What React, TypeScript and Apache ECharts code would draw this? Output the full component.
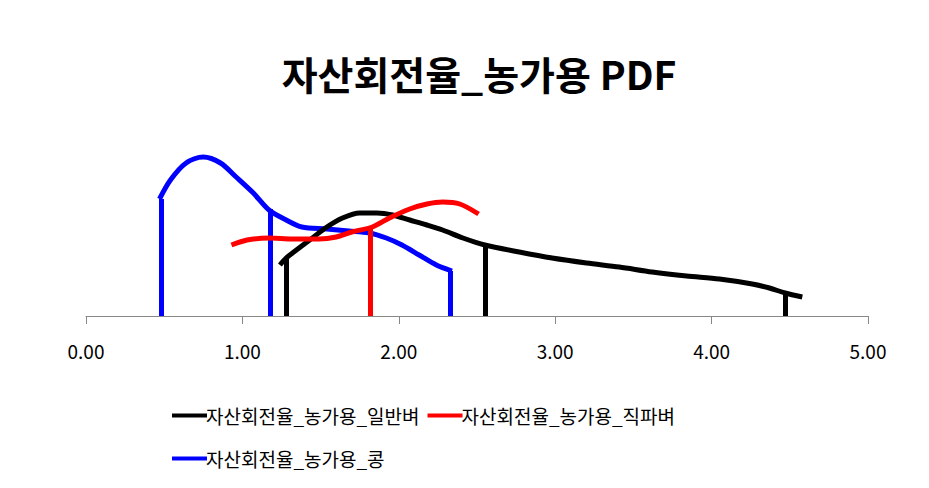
import React, { useEffect, useRef } from "react";
import * as echarts from "echarts";

const seriesNames = ["자산회전율_농가용_일반벼", "자산회전율_농가용_직파벼", "자산회전율_농가용_콩"];
const colors = ["#000000", "#ff0000", "#0000ff"];

const blackCurve: [number, number][] = [
  [1.24, 0.51], [1.28, 0.58], [1.32, 0.63], [1.43, 0.76], [1.54, 0.89], [1.64, 0.98],
  [1.75, 1.03], [1.86, 1.03], [1.96, 1.01], [2.07, 0.96], [2.18, 0.91], [2.28, 0.86],
  [2.41, 0.78], [2.55, 0.71], [2.77, 0.64], [2.98, 0.58], [3.2, 0.53], [3.41, 0.49],
  [3.62, 0.44], [3.84, 0.4], [4.05, 0.37], [4.26, 0.32], [4.37, 0.28], [4.47, 0.23],
  [4.58, 0.19],
];
const redCurve: [number, number][] = [
  [0.93, 0.71], [1.03, 0.76], [1.17, 0.78], [1.32, 0.77], [1.49, 0.77], [1.6, 0.79],
  [1.7, 0.84], [1.83, 0.89], [1.94, 0.98], [2.07, 1.07], [2.18, 1.12], [2.28, 1.14],
  [2.39, 1.12], [2.51, 1.02],
];
const blueCurve: [number, number][] = [
  [0.47, 1.17], [0.54, 1.36], [0.64, 1.53], [0.75, 1.59], [0.86, 1.53], [0.96, 1.39],
  [1.07, 1.23], [1.17, 1.06], [1.28, 0.96], [1.38, 0.89], [1.54, 0.87], [1.68, 0.85],
  [1.81, 0.83], [1.92, 0.78], [2.02, 0.71], [2.13, 0.61], [2.24, 0.51], [2.34, 0.45],
];

// vertical marker lines (x position, height)
const blackMarkX = [1.28, 2.55, 4.47];
const blackMarkY = [0.58, 0.71, 0.23];
const redMarkX = [1.82];
const redMarkY = [0.88];
const blueMarkX = [0.48, 1.18, 2.33];
const blueMarkY = [1.17, 1.07, 0.45];

const xTicks = [0, 1, 2, 3, 4, 5];

const curves = [blackCurve, redCurve, blueCurve];
const markXs = [blackMarkX, redMarkX, blueMarkX];
const markYs = [blackMarkY, redMarkY, blueMarkY];

const FONT = "'Noto Sans CJK KR', 'Noto Sans', sans-serif";

export default function App() {
  const ref = useRef<HTMLDivElement>(null);
  useEffect(() => {
    document.body.style.margin = "0";
    if (!ref.current) return;
    const chart = echarts.init(ref.current, undefined, { renderer: "svg" });
    const series: any[] = curves.map((c, i) => ({
      name: seriesNames[i],
      type: "line",
      data: c,
      smooth: 0.3,
      showSymbol: false,
      symbol: "none",
      lineStyle: { color: colors[i], width: 5 },
      itemStyle: { color: colors[i] },
      z: 3 + (i === 2 ? 0 : i === 1 ? 2 : 1),
      markLine: {
        silent: true,
        symbol: ["none", "none"],
        label: { show: false },
        lineStyle: { color: colors[i], width: 5, type: "solid" },
        data: markXs[i].map((x, k) => [
          { coord: [x, 0] },
          { coord: [x, markYs[i][k]] },
        ]),
      },
    }));
    const legendBase = {
      orient: "horizontal",
      itemWidth: 35,
      itemHeight: 4,
      itemGap: 8,
      icon: "rect",
      textStyle: { fontFamily: FONT, fontSize: 19, color: "#000", padding: [11, 0, 0, -6] },
    };
    chart.setOption({
      animation: false,
      backgroundColor: "#ffffff",
      title: {
        text: "자산회전율_농가용 PDF",
        left: 474,
        top: 48,
        textAlign: "center",
        textStyle: { fontFamily: FONT, fontSize: 39, fontWeight: "bold", color: "#000" },
      },
      grid: { left: 86, right: 61, top: 116, bottom: 172, containLabel: false },
      xAxis: {
        type: "value",
        min: 0,
        max: 5,
        interval: 1,
        axisLine: { show: true, lineStyle: { color: "#888888", width: 1 } },
        axisTick: { show: true, length: 8, lineStyle: { color: "#888888" } },
        splitLine: { show: false },
        axisLabel: {
          margin: 25,
          fontFamily: FONT,
          fontSize: 19,
          color: "#000",
          formatter: (v: number) => (xTicks.includes(v) ? v.toFixed(2) : ""),
        },
      },
      yAxis: {
        type: "value",
        min: 0,
        max: 2,
        show: false,
        splitLine: { show: false },
      },
      legend: [
        { ...legendBase, left: 167, top: 401, data: [seriesNames[0], seriesNames[1]] },
        { ...legendBase, left: 167, top: 444, data: [seriesNames[2]] },
      ],
      series,
    });
    return () => chart.dispose();
  }, []);
  return <div ref={ref} style={{ width: 929, height: 488 }} />;
}
